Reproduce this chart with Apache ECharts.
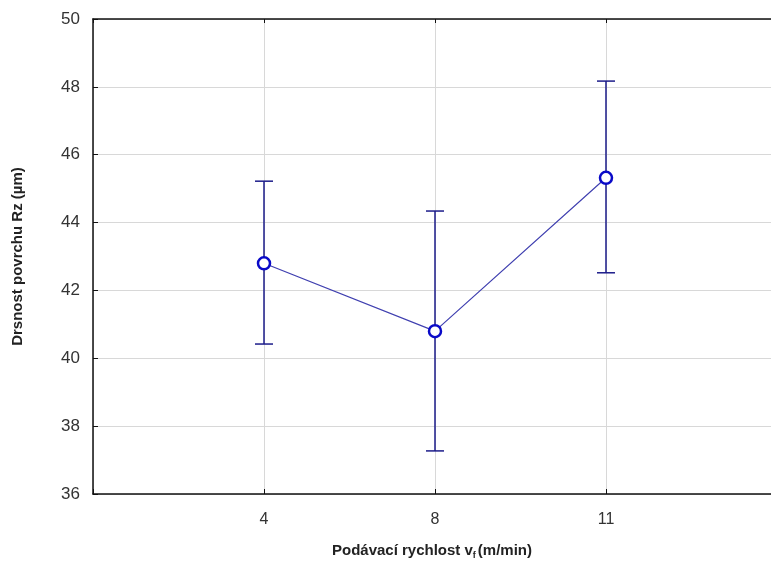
<!DOCTYPE html>
<html><head><meta charset="utf-8">
<script src="https://cdn.jsdelivr.net/npm/echarts@6/dist/echarts.min.js"></script>
<style>html,body{margin:0;padding:0;background:#fff}#c{width:771px;height:567px}</style>
</head><body><div id="c"></div>
<script>
const categories = ['4', '8', '11'];
const means = [42.8, 40.8, 45.32];
const upper = [45.22, 44.34, 48.17];
const lower = [40.42, 37.27, 42.52];
const yTicks = [36, 38, 40, 42, 44, 46, 48, 50];

const chart = echarts.init(document.getElementById('c'));
const pos = categories.map((c, i) => i + 1);
const xMax = 3.965;
chart.setOption({
  animation: false,
  grid: { left: 93, right: 0, top: 19, bottom: 73 },
  xAxis: [{
    type: 'value', min: 0, max: xMax, interval: 1,
    name: '{a|Podávací rychlost v}{s|f}{a|(m/min)}',
    nameLocation: 'middle', nameGap: 47,
    nameTextStyle: { rich: { a: { fontFamily: 'Liberation Sans', fontWeight: 'bold', fontSize: 15, color: '#222' }, s: { fontFamily: 'Liberation Sans', fontWeight: 'bold', fontSize: 9, color: '#222', verticalAlign: 'bottom', padding: [10, 2, 0, 0] } } },
    axisLine: { onZero: false, lineStyle: { color: '#111', width: 1.5 } },
    axisTick: { inside: true, length: 5, lineStyle: { color: '#111' } },
    axisLabel: { margin: 18, fontFamily: 'Liberation Sans', fontSize: 16, color: '#333', showMaxLabel: false, formatter: v => (v >= 1 && v <= 3) ? categories[v - 1] : '' },
    splitLine: { lineStyle: { color: '#d8d8d8' } }
  }, {
    type: 'value', position: 'top', min: 0, max: xMax, interval: 1,
    axisLine: { onZero: false, lineStyle: { color: '#111', width: 1.5 } },
    axisTick: { show: true, inside: true, length: 4, lineStyle: { color: '#111' } },
    axisLabel: { show: false }, splitLine: { show: false }
  }],
  yAxis: {
    type: 'value', min: yTicks[0], max: yTicks[yTicks.length - 1], interval: 2,
    name: 'Drsnost povrchu Rz (µm)', nameLocation: 'middle', nameGap: 68,
    nameTextStyle: { fontFamily: 'Liberation Sans', fontWeight: 'bold', fontSize: 15, color: '#222' },
    axisLine: { lineStyle: { color: '#111', width: 1.5 } },
    axisTick: { inside: true, length: 5, lineStyle: { color: '#111' } },
    axisLabel: { margin: 13, fontFamily: 'Liberation Sans', fontSize: 17, color: '#333' },
    splitLine: { lineStyle: { color: '#d8d8d8' } }
  },
  series: [
    {
      type: 'custom',
      data: pos.map((p, i) => [p, lower[i], upper[i]]),
      renderItem: function (params, api) {
        const lo = api.coord([api.value(0), api.value(1)]);
        const hi = api.coord([api.value(0), api.value(2)]);
        const w = 9;
        const st = { stroke: '#1c1c8a', lineWidth: 1.5 };
        return { type: 'group', children: [
          { type: 'line', shape: { x1: hi[0], y1: hi[1], x2: lo[0], y2: lo[1] }, style: st },
          { type: 'line', shape: { x1: hi[0] - w, y1: hi[1], x2: hi[0] + w, y2: hi[1] }, style: st },
          { type: 'line', shape: { x1: lo[0] - w, y1: lo[1], x2: lo[0] + w, y2: lo[1] }, style: st }
        ]};
      },
      z: 2
    },
    {
      type: 'line',
      data: pos.map((p, i) => [p, means[i]]),
      lineStyle: { color: '#4040b0', width: 1.2 },
      symbol: 'circle', symbolSize: 12,
      itemStyle: { color: '#fff', borderColor: '#0a0ac8', borderWidth: 2.5 },
      z: 3
    }
  ]
});
</script></body></html>
